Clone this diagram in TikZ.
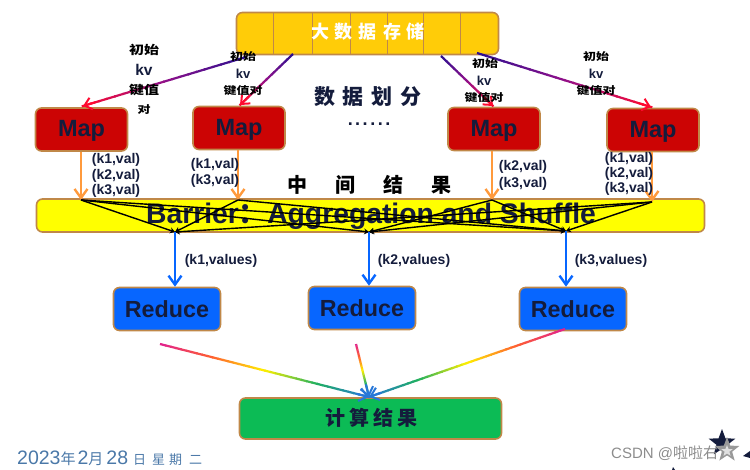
\documentclass[tikz,border=0pt]{standalone}
\usepackage{fontspec}
\usepackage{graphicx}
\setmainfont{Liberation Sans}
\newfontfamily\cjk{Noto Sans CJK SC}
\usetikzlibrary{arrows.meta,calc,shapes.geometric}
\definecolor{edgebrown}{HTML}{C08848}
\definecolor{inkblue}{HTML}{141C3C}
\definecolor{storegold}{HTML}{FFCC08}
\definecolor{mapred}{HTML}{CC0404}
\definecolor{barrieryellow}{HTML}{FFFF00}
\definecolor{reduceblue}{HTML}{0766FF}
\definecolor{resultgreen}{HTML}{0CBB55}
\definecolor{orangearrow}{HTML}{FF9A3C}
\definecolor{startpurple}{HTML}{2A1090}
\definecolor{midviolet}{HTML}{90108A}
\definecolor{endred}{HTML}{FF0A30}
\definecolor{rainA}{HTML}{E0208F}
\definecolor{rainB}{HTML}{FF6030}
\definecolor{rainC}{HTML}{FFF000}
\definecolor{rainD}{HTML}{20B060}
\definecolor{rainE}{HTML}{2878D8}
\definecolor{dategray}{HTML}{4A78A8}
\tikzset{
  x=1pt,y=-1pt,
  box/.style={draw=edgebrown,line width=1.6pt,rounded corners=6pt,inner sep=0pt,text=inkblue,font=\bfseries},
  mapbox/.style={box,fill=mapred,minimum width=92pt,minimum height=43pt,text height=17pt,text depth=2pt,font=\fontsize{23.5}{26}\selectfont\bfseries},
  reducebox/.style={box,fill=reduceblue,minimum width=107pt,minimum height=43pt,font=\fontsize{23.3}{26}\selectfont\bfseries},
  kvlabel/.style={inner sep=0pt,text=inkblue,font=\fontsize{14}{15}\selectfont\bfseries},
  cjklabel/.style={inner sep=0pt,text=black,font=\cjk\bfseries\fontsize{#1}{#1}\selectfont},
  cjklabel/.default=11,
  orangeflow/.style={draw=orangearrow,line width=2.4pt,-{Straight Barb[length=9pt,width=13pt,line width=2.4pt]}},
  blueflow/.style={draw=reduceblue,line width=2.4pt,-{Straight Barb[length=9pt,width=13pt,line width=2.4pt]}},
  shuffle/.style={draw=black,line width=1.4pt,-{Stealth[length=5pt,width=6pt]}},
  fivestar/.style={star,star points=5,star point ratio=2.4,inner sep=0pt,draw=none}
}
% Flattened glyphs for the small captions
\newcommand{\squat}[1]{\scalebox{1}[0.8]{#1}}
% Colour-graded arrow: each band of the list runs from one colour to the next
\newcommand{\gradedarrow}[5]{%
  \foreach \ca/\cb [count=\k from 0] in {#3}{%
    \foreach \s in {0,...,9}{%
      \pgfmathsetmacro{\ta}{(\k+\s/10)/#4}%
      \pgfmathsetmacro{\tb}{(\k+(\s+1.15)/10)/#4}%
      \pgfmathsetmacro{\mixval}{\s*10+5}%
      \draw[line width=#5,color=\cb!\mixval!\ca] ($(#1)!\ta!(#2)$) -- ($(#1)!\tb!(#2)$);
    }%
  }%
}
\begin{document}
\begin{tikzpicture}
\useasboundingbox (0,0) rectangle (750,470);

% Storage bar with its cell dividers
\node[box,fill=storegold,minimum width=262pt,minimum height=42pt] (store) at (367.5,33.5) {};
\foreach \dx in {273,312,350,387,423,460}
  \draw[edgebrown,line width=0.9pt] (\dx,13) -- (\dx,54);
\node[cjklabel=18,text=white] (storetext) at (368,32) {大\hspace{6pt}数\hspace{6pt}据\hspace{6pt}存\hspace{6pt}储};

% Map tasks
\node[mapbox] (m1) at (81.5,129.5) {Map};
\node[mapbox] (m2) at (239,128) {Map};
\node[mapbox] (m3) at (494,129) {Map};
\node[mapbox] (m4) at (653,130) {Map};

% Barrier band
\node[box,fill=barrieryellow,minimum width=668pt,minimum height=33pt] (barrier) at (370.5,215.5) {};
\node[inner sep=0pt,text=inkblue,font=\fontsize{28.3}{30}\selectfont\bfseries] (barriertext) at (371,216) {Barrier{\cjk ：}Aggregation and Shuffle};

% Reduce tasks
\node[reducebox] (r1) at (167,309) {Reduce};
\node[reducebox] (r2) at (362,308) {Reduce};
\node[reducebox] (r3) at (573,309) {Reduce};

% Final result
\node[box,fill=resultgreen,minimum width=262pt,minimum height=41pt] (result) at (370.5,418.5) {};
\node[cjklabel=20,text=inkblue] (resulttext) at (371,418) {计\hspace{4pt}算\hspace{4pt}结\hspace{4pt}果};

% Connector end points
\coordinate (s1) at (246,57);
\coordinate (s2) at (293,54);
\coordinate (s3) at (441,56);
\coordinate (s4) at (477,53);
\coordinate (m1in) at (83,106);
\coordinate (m2in) at (240,105);
\coordinate (m3in) at (493,106);
\coordinate (m4in) at (651,107);
\coordinate (b1) at (81,200);
\coordinate (b2) at (238,200);
\coordinate (b3) at (492,200);
\coordinate (b4) at (652,202);
\coordinate (t1) at (175,232);
\coordinate (t2) at (369,232);
\coordinate (t3) at (566,231);
\coordinate (g1) at (160,344);
\coordinate (g2) at (356,344);
\coordinate (g3) at (565,329);
\coordinate (sink) at (369,397);

% Storage to Map arrows
\foreach \from/\to in {s1/m1in,s2/m2in,s3/m3in,s4/m4in}{
  \gradedarrow{\from}{\to}{startpurple/midviolet,midviolet/endred}{2}{2.2pt}
  \draw[endred,line width=2pt,-{Straight Barb[length=7pt,width=12pt,line width=2pt]}]
    ($(\to)!13pt!(\from)$) -- (\to);
}

% Map to barrier arrows
\draw[orangeflow] (m1.south -| b1) -- (b1);
\draw[orangeflow] (m2.south -| b2) -- (b2);
\draw[orangeflow] (m3.south -| b3) -- (b3);
\draw[orangeflow] (m4.south -| b4) -- (b4);

% Shuffle routing across the barrier
\foreach \from/\to in {b1/t1,b1/t2,b1/t3,b2/t1,b2/t3,b3/t2,b3/t3,b4/t1,b4/t2,b4/t3}
  \draw[shuffle] (\from) -- (\to);

% Barrier to Reduce arrows
\draw[blueflow] (t1) -- (t1 |- r1.north);
\draw[blueflow] (t2) -- (t2 |- r2.north);
\draw[blueflow] (t3) -- (t3 |- r3.north);

% Reduce to result arrows
\foreach \from in {g1,g2,g3}{
  \gradedarrow{\from}{sink}{rainA/rainB,rainB/rainC,rainC/rainD,rainD/rainE}{4}{2.2pt}
  \draw[rainE,line width=2pt,-{Straight Barb[length=8pt,width=13pt,line width=2pt]}]
    ($(sink)!13pt!(\from)$) -- (sink);
}

% Key-value labels beside the arrows
\node[kvlabel] (la) at (116,160) {(k1,val)};
\node[kvlabel] (lb) at (116,175.500) {(k2,val)};
\node[kvlabel] (lc) at (116,190.500) {(k3,val)};
\node[kvlabel] (ld) at (215,165) {(k1,val)};
\node[kvlabel] (le) at (215,181) {(k3,val)};
\node[kvlabel] (lf) at (523,166.500) {(k2,val)};
\node[kvlabel] (lg) at (523,184) {(k3,val)};
\node[kvlabel] (lh) at (629,159) {(k1,val)};
\node[kvlabel] (li) at (629,174) {(k2,val)};
\node[kvlabel] (lj) at (629,189) {(k3,val)};
\node[kvlabel] (lk) at (221,261) {(k1,values)};
\node[kvlabel] (ll) at (414,261) {(k2,values)};
\node[kvlabel] (lm) at (611,261) {(k3,values)};

% Captions for the initial key-value pairs
\node[cjklabel=15] (c1a) at (144,50) {\squat{初始}};
\node[kvlabel,font=\fontsize{15.5}{16}\selectfont\bfseries] (c1b) at (144,70) {kv};
\node[cjklabel=15] (c1c) at (144,90) {\squat{键值}};
\node[cjklabel=13] (c1d) at (144,110) {\squat{对}};
\node[cjklabel=13] (c2a) at (243,57) {\squat{初始}};
\node[kvlabel,font=\fontsize{13}{14}\selectfont\bfseries] (c2b) at (243,74) {kv};
\node[cjklabel=13] (c2c) at (243,91) {\squat{键值对}};
\node[cjklabel=13] (c3a) at (485,64) {\squat{初始}};
\node[kvlabel,font=\fontsize{13}{14}\selectfont\bfseries] (c3b) at (484,81) {kv};
\node[cjklabel=13] (c3c) at (484,98) {\squat{键值对}};
\node[cjklabel=13] (c4a) at (596,57) {\squat{初始}};
\node[kvlabel,font=\fontsize{13}{14}\selectfont\bfseries] (c4b) at (596,74) {kv};
\node[cjklabel=13] (c4c) at (596,91) {\squat{键值对}};

% Headings in the middle of the chart
\node[cjklabel=21,text=inkblue] (split) at (368,97) {数\hspace{8pt}据\hspace{8pt}划\hspace{8pt}分};
\node[inner sep=0pt,font=\fontsize{18}{20}\selectfont\bfseries,text=inkblue] (dots) at (369,124) {.\hspace{2.5pt}.\hspace{2.5pt}.\hspace{2.5pt}.\hspace{2.5pt}.\hspace{2.5pt}.};
\node[cjklabel=20] (mid) at (369.500,185) {中\hspace{28pt}间\hspace{28pt}结\hspace{28pt}果};

% Date line and corner decoration
\node[inner sep=0pt,anchor=west,text=dategray,font=\fontsize{19.5}{22}\selectfont] (date) at (17,458)
  {2023{\cjk\fontsize{15}{15}\selectfont 年}\hspace{2pt}2{\cjk\fontsize{15}{15}\selectfont 月}\hspace{3pt}28\hspace{5pt}{\cjk\fontsize{13}{13}\selectfont 日\hspace{6pt}星\hspace{4pt}期\hspace{7pt}二}};
\node[fivestar,fill=inkblue,minimum size=28pt] (stara) at (722,443) {};
\node[fivestar,fill=black!40,minimum size=26pt] (starb) at (727,450) {};
\node[fivestar,fill=black!12,minimum size=12pt] (starc) at (727,451) {};
\path[fill=inkblue] (750,451) -- (743,456) -- (750,458) -- cycle;
\path[fill=inkblue] (672,470) -- (673,467) -- (675,470) -- cycle;

% Watermark
\node[inner sep=0pt,anchor=west,text=black!45,font=\fontsize{15}{16}\selectfont] (mark) at (611,453) {CSDN @{\cjk 啦啦右}};
\end{tikzpicture}
\end{document}
